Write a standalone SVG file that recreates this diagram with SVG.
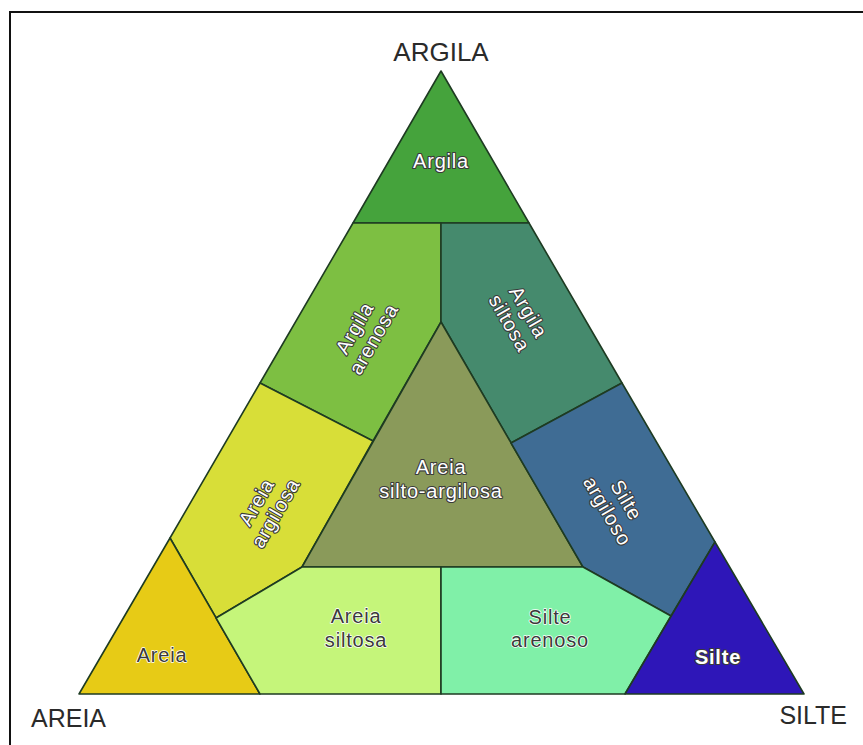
<svg xmlns="http://www.w3.org/2000/svg" width="863" height="745" viewBox="0 0 863 745">
<style>
.reg{stroke:#1e3b22;stroke-width:1.6;stroke-linejoin:round}
.lbl{font-family:"Liberation Sans",Arial,sans-serif;font-size:20px;text-anchor:middle;letter-spacing:0.8px}
.w{fill:#ffffff;stroke:#3a3a3a;stroke-width:2.2;paint-order:stroke;stroke-linejoin:round}
.d{fill:#3a3a3a;stroke:#ffffff;stroke-width:1.5;paint-order:stroke;stroke-linejoin:round}
.ax{font-family:"Liberation Sans",Arial,sans-serif;font-size:25px;fill:#2a2a2a}
</style>
<rect width="863" height="745" fill="#ffffff"/>
<path d="M10 745 V12 H863" fill="none" stroke="#111" stroke-width="2"/>
<g id="argila"><polygon class="reg" points="441,71 529,223 353,223" fill="#45a33c"/><text class="lbl w" x="441" y="168">Argila</text></g>
<g id="argila-arenosa"><polygon class="reg" points="353,223 441,223 441,322 373,441 260,383" fill="#7dbf42"/><text class="lbl w" transform="rotate(-60 363 333)" x="363" y="330">Argila<tspan x="363" dy="22">arenosa</tspan></text></g>
<g id="argila-siltosa"><polygon class="reg" points="441,223 529,223 622,383 511,443 441,322" fill="#458a6d"/><text class="lbl w" transform="rotate(60 520 317)" x="520" y="314">Argila<tspan x="520" dy="22">siltosa</tspan></text></g>
<g id="areia-argilosa"><polygon class="reg" points="260,383 373,441 302,567 216,618 170,538" fill="#d8de38"/><text class="lbl w" transform="rotate(-60 265 507)" x="265" y="504">Areia<tspan x="265" dy="22">argilosa</tspan></text></g>
<g id="areia-silto-argilosa"><polygon class="reg" points="441,322 583,567 302,567" fill="#8a9a5a"/><text class="lbl w" x="441" y="474">Areia<tspan x="441" dy="24">silto-argilosa</tspan></text></g>
<g id="silte-argiloso"><polygon class="reg" points="622,383 715,542 671,616 583,567 511,443" fill="#3f6c94"/><text class="lbl w" transform="rotate(60 618 505)" x="618" y="502">Silte<tspan x="618" dy="22">argiloso</tspan></text></g>
<g id="areia"><polygon class="reg" points="170,538 260,694 79,694" fill="#e7cb16"/><text class="lbl d" x="162" y="662">Areia</text></g>
<g id="areia-siltosa"><polygon class="reg" points="216,618 302,567 441,567 441,694 260,694" fill="#c5f57a"/><text class="lbl d" x="356" y="623">Areia<tspan x="356" dy="24">siltosa</tspan></text></g>
<g id="silte-arenoso"><polygon class="reg" points="441,567 583,567 671,616 625,694 441,694" fill="#80f0a8"/><text class="lbl d" x="550" y="624">Silte<tspan x="550" dy="23">arenoso</tspan></text></g>
<g id="silte"><polygon class="reg" points="715,542 804,694 625,694" fill="#2e16b8"/><text class="lbl w" x="718" y="664" style="font-weight:bold">Silte</text></g>
<g id="axes">
<text class="ax" x="441" y="61" text-anchor="middle" style="font-size:26px">ARGILA</text>
<text class="ax" x="31" y="727">AREIA</text>
<text class="ax" x="847" y="724" text-anchor="end">SILTE</text>
</g>
</svg>
